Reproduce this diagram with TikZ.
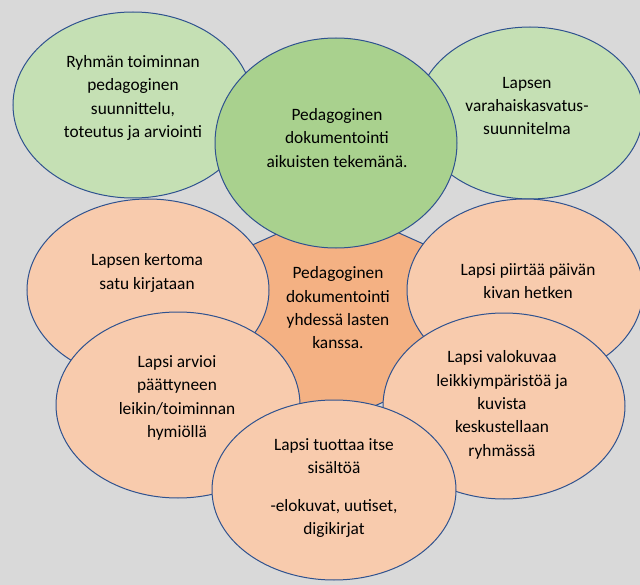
\documentclass[tikz,border=0pt]{standalone}
\usepackage{fontspec}
\setmainfont{Carlito}
\definecolor{lightgreen}{RGB}{197,224,180}
\definecolor{midgreen}{RGB}{169,209,142}
\definecolor{lightorange}{RGB}{248,203,173}
\definecolor{midorange}{RGB}{244,177,131}
\definecolor{rim}{RGB}{47,82,143}
\definecolor{backgray}{RGB}{217,217,217}
\begin{document}
\begin{tikzpicture}[x=0.75pt,y=0.75pt,yscale=-1,xscale=1,
  bubble/.style={draw=rim,line width=0.75pt},
  txt/.style={inner sep=0.75pt,align=center,font=\fontsize{13}{17.5}\selectfont}]
\fill [backgray] (0,0) rectangle (640,585) ;
\clip (0,0) rectangle (640,585) ;
% middle hexagon
\draw [bubble,fill=midorange] (339,206) -- (459,260) -- (459,368) -- (339,422) -- (219,368) -- (219,260) -- cycle ;
% green bubbles
\draw [bubble,fill=lightgreen] (133,105) ellipse [x radius=120,y radius=93] ;
\draw [bubble,fill=lightgreen] (530,113) ellipse [x radius=113,y radius=86] ;
\draw [bubble,fill=midgreen] (336,143) ellipse [x radius=121,y radius=105] ;
% orange bubbles
\draw [bubble,fill=lightorange] (148,290) ellipse [x radius=121,y radius=91] ;
\draw [bubble,fill=lightorange] (525,290) ellipse [x radius=118,y radius=91] ;
\draw [bubble,fill=lightorange] (178,405) ellipse [x radius=122,y radius=93] ;
\draw [bubble,fill=lightorange] (504,406) ellipse [x radius=121,y radius=93] ;
\draw [bubble,fill=lightorange] (334,490) ellipse [x radius=122,y radius=90] ;
% texts
\node [txt] (suunnittelu) at (133,98) {Ryhmän toiminnan\\pedagoginen\\suunnittelu,\\toteutus ja arviointi};
\node [txt] (aikuiset) at (337,138) {Pedagoginen\\dokumentointi\\aikuisten tekemänä.};
\node [txt] (vasu) at (527,106) {Lapsen\\varahaiskasvatus-\\suunnitelma};
\node [txt] (satu) at (147,273) {Lapsen kertoma\\satu kirjataan};
\node [txt] (piirros) at (528,281) {Lapsi piirtää päivän\\kivan hetken};
\node [txt] (yhdessa) at (338,308) {Pedagoginen\\dokumentointi\\yhdessä lasten\\kanssa.};
\node [txt] (hymio) at (177,398) {Lapsi arvioi\\päättyneen\\leikin/toiminnan\\hymiöllä};
\node [txt] (valokuva) at (502,405) {Lapsi valokuvaa\\leikkiympäristöä ja\\kuvista\\keskustellaan\\ryhmässä};
\node [txt] (sisalto) at (334,488) {Lapsi tuottaa itse\\sisältöä\\[11pt]-elokuvat, uutiset,\\digikirjat};
\end{tikzpicture}
\end{document}
